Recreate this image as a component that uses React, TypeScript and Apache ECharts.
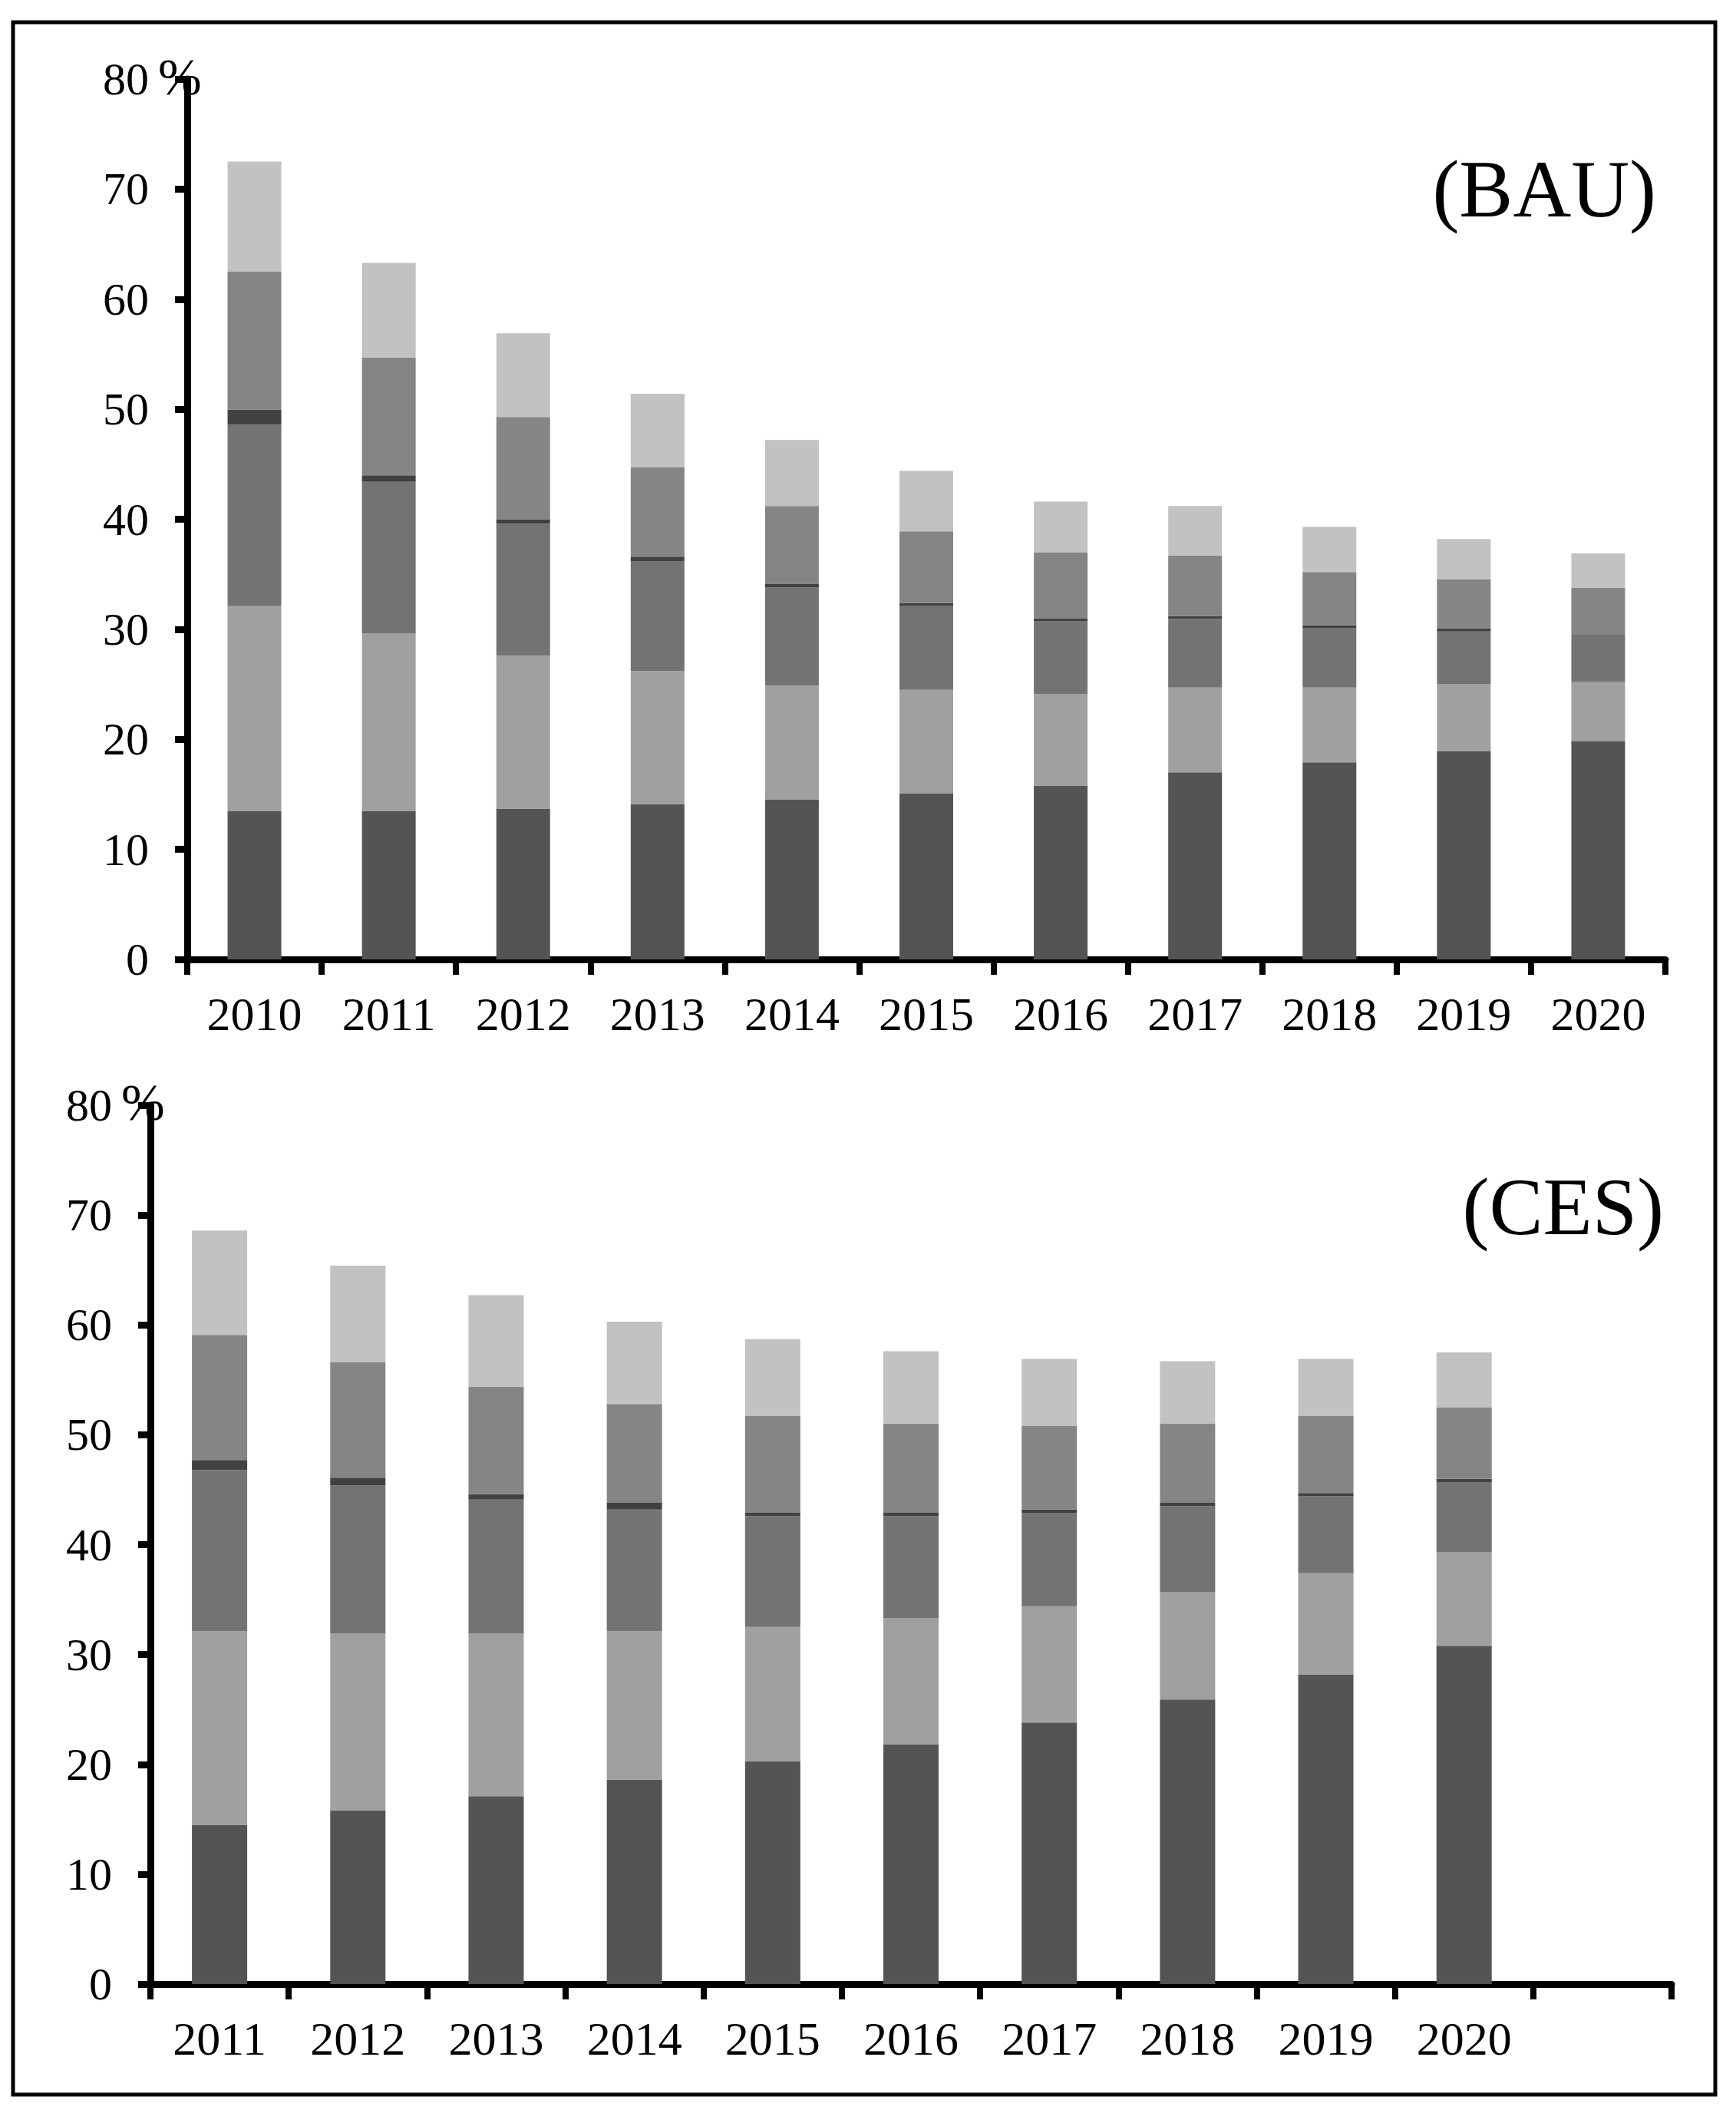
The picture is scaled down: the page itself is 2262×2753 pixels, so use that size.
import React, { useEffect, useRef } from "react";
import * as echarts from "echarts";

// ---- data ----
const bauYears = ["2010", "2011", "2012", "2013", "2014", "2015", "2016", "2017", "2018", "2019", "2020"];
const cesYears = ["2011", "2012", "2013", "2014", "2015", "2016", "2017", "2018", "2019", "2020", ""];

const bauS1 = [13.5, 13.5, 13.7, 14.1, 14.5, 15.1, 15.8, 17.0, 17.9, 18.9, 19.8];
const bauS2 = [18.6, 16.1, 13.9, 12.1, 10.4, 9.4, 8.3, 7.7, 6.8, 6.1, 5.4];
const bauS3 = [16.5, 13.8, 12.0, 10.0, 8.9, 7.65, 6.65, 6.25, 5.4, 4.8, 4.3];
const bauS4 = [1.35, 0.6, 0.4, 0.4, 0.3, 0.25, 0.25, 0.25, 0.25, 0.3, 0];
const bauS5 = [12.55, 10.7, 9.3, 8.1, 7.1, 6.5, 6.0, 5.5, 4.85, 4.45, 4.3];
const bauS6 = [10.0, 8.6, 7.6, 6.7, 6.0, 5.5, 4.6, 4.5, 4.1, 3.65, 3.1];

const cesS1 = [14.5, 15.8, 17.1, 18.6, 20.3, 21.8, 23.8, 25.9, 28.2, 30.8];
const cesS2 = [17.6, 16.1, 14.8, 13.5, 12.2, 11.5, 10.6, 9.8, 9.2, 8.5];
const cesS3 = [14.7, 13.5, 12.2, 11.1, 10.1, 9.3, 8.5, 7.8, 7.0, 6.4];
const cesS4 = [0.9, 0.7, 0.5, 0.6, 0.3, 0.3, 0.3, 0.3, 0.3, 0.3];
const cesS5 = [11.4, 10.5, 9.8, 9.0, 8.8, 8.1, 7.6, 7.2, 7.0, 6.5];
const cesS6 = [9.5, 8.8, 8.3, 7.5, 7.0, 6.6, 6.1, 5.7, 5.2, 5.0];

const segColors = ["#545454", "#a0a0a0", "#737373", "#414141", "#858585", "#c2c2c2"];

const yMin = 0;
const yMax = 80;
const yStep = 10;

const FONT = "'Liberation Serif', 'Times New Roman', serif";

export default function App() {
  const ref = useRef<HTMLDivElement>(null);

  useEffect(() => {
    document.body.style.margin = "0";
    if (!ref.current) return;
    const chart = echarts.init(ref.current, null, { renderer: "svg" });

    const axisLine = { show: true, lineStyle: { color: "#000", width: 9 } };

    const xAxisBase = (data: string[], gridIndex: number) => ({
      type: "category",
      gridIndex,
      data,
      boundaryGap: true,
      axisLine,
      axisTick: { show: true, alignWithLabel: false, length: 20, lineStyle: { color: "#000", width: 8 } },
      axisLabel: { color: "#000", fontFamily: FONT, fontSize: 62, margin: 40, interval: 0 },
      splitLine: { show: false },
    });

    const yAxisBase = (gridIndex: number) => ({
      type: "value",
      gridIndex,
      min: yMin,
      max: yMax,
      interval: yStep,
      axisLine,
      axisTick: { show: true, length: 16, lineStyle: { color: "#000", width: 9 } },
      axisLabel: { color: "#000", fontFamily: FONT, fontSize: 60, margin: 50 },
      splitLine: { show: false },
    });

    const mk = (arrs: number[][], stack: string, idx: number, bw: number) =>
      arrs.map((d, i) => ({
        type: "bar",
        name: stack + i,
        xAxisIndex: idx,
        yAxisIndex: idx,
        stack,
        data: d,
        barWidth: bw,
        itemStyle: { color: segColors[i] },
        emphasis: { disabled: true },
      }));

    chart.setOption({
      animation: false,
      backgroundColor: "#fff",
      grid: [
        { left: 244, top: 103, width: 1926, height: 1147 },
        { left: 196, top: 1440, width: 1982, height: 1145 },
      ],
      xAxis: [xAxisBase(bauYears, 0), xAxisBase(cesYears, 1)],
      yAxis: [yAxisBase(0), yAxisBase(1)],
      series: [
        ...mk([bauS1, bauS2, bauS3, bauS4, bauS5, bauS6], "bau", 0, 70),
        ...mk([cesS1, cesS2, cesS3, cesS4, cesS5, cesS6], "ces", 1, 72),
      ],
      graphic: [
        {
          type: "rect",
          z: 100,
          shape: { x: 17, y: 29, width: 2218, height: 2700 },
          style: { fill: "none", stroke: "#000", lineWidth: 5 },
        },
        {
          type: "text",
          z: 100,
          x: 206,
          y: 100,
          style: { text: "%", font: `68px ${FONT}`, fill: "#000", align: "left", verticalAlign: "middle" },
        },
        {
          type: "text",
          z: 100,
          x: 158,
          y: 1436,
          style: { text: "%", font: `68px ${FONT}`, fill: "#000", align: "left", verticalAlign: "middle" },
        },
        {
          type: "text",
          z: 100,
          x: 2158,
          y: 246,
          style: { text: "(BAU)", font: `105px ${FONT}`, fill: "#000", align: "right", verticalAlign: "middle" },
        },
        {
          type: "text",
          z: 100,
          x: 2168,
          y: 1572,
          style: { text: "(CES)", font: `105px ${FONT}`, fill: "#000", align: "right", verticalAlign: "middle" },
        },
      ],
    });

    return () => chart.dispose();
  }, []);

  return <div ref={ref} style={{ width: 2262, height: 2753 }} />;
}
